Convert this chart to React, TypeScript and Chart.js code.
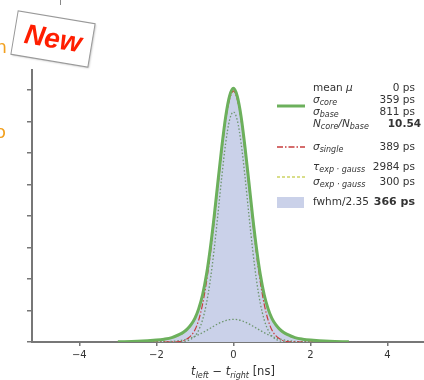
import React, { useEffect, useRef } from 'react';
import { Chart, registerables } from 'chart.js';
Chart.register(...registerables);

// x positions (ns)
const xs = [-3, -2.5, -2, -1.8, -1.6, -1.4, -1.3, -1.2, -1.1, -1.0, -0.9, -0.8, -0.7, -0.6, -0.5, -0.4, -0.3, -0.2, -0.1, 0,
  0.1, 0.2, 0.3, 0.4, 0.5, 0.6, 0.7, 0.8, 0.9, 1.0, 1.1, 1.2, 1.3, 1.4, 1.6, 1.8, 2, 2.5, 3];

// histogram (filled)
const histVals = [0, 0.01, 0.04, 0.07, 0.12, 0.21, 0.28, 0.38, 0.52, 0.72, 1.02, 1.46, 2.08, 2.92, 3.93, 5.05, 6.15, 7.1, 7.75, 8.0,
  7.75, 7.1, 6.15, 5.05, 3.93, 2.92, 2.08, 1.46, 1.02, 0.72, 0.52, 0.38, 0.28, 0.21, 0.12, 0.07, 0.04, 0.01, 0];

// double gaussian total fit (green solid)
const totalFit = [0.005, 0.02, 0.06, 0.09, 0.14, 0.24, 0.31, 0.41, 0.55, 0.75, 1.06, 1.5, 2.13, 2.97, 3.98, 5.1, 6.2, 7.15, 7.8, 8.05,
  7.8, 7.15, 6.2, 5.1, 3.98, 2.97, 2.13, 1.5, 1.06, 0.75, 0.55, 0.41, 0.31, 0.24, 0.14, 0.09, 0.06, 0.02, 0.005];

// core component (green dotted)
const coreFit = [0, 0, 0, 0, 0, 0.005, 0.015, 0.038, 0.088, 0.19, 0.38, 0.705, 1.22, 1.96, 2.93, 4.07, 5.26, 6.31, 7.04, 7.3,
  7.04, 6.31, 5.26, 4.07, 2.93, 1.96, 1.22, 0.705, 0.38, 0.19, 0.088, 0.038, 0.015, 0.005, 0, 0, 0, 0, 0];

// base component (green dotted)
const baseFit = [0, 0, 0.003, 0.008, 0.02, 0.047, 0.069, 0.097, 0.134, 0.18, 0.234, 0.296, 0.364, 0.437, 0.509, 0.577, 0.635, 0.681, 0.71, 0.72,
  0.71, 0.681, 0.635, 0.577, 0.509, 0.437, 0.364, 0.296, 0.234, 0.18, 0.134, 0.097, 0.069, 0.047, 0.02, 0.008, 0.003, 0, 0];

// single gaussian (red dash-dot)
const singleFit = [0, 0, 0, 0, 0.004, 0.015, 0.04, 0.1, 0.2, 0.38, 0.7, 1.2, 1.9, 2.78, 3.82, 4.95, 6.05, 7.05, 7.7, 7.97,
  7.7, 7.05, 6.05, 4.95, 3.82, 2.78, 1.9, 1.2, 0.7, 0.38, 0.2, 0.1, 0.04, 0.015, 0.004, 0, 0, 0, 0];

// exp-gauss (yellow dashed)
const expGaussFit = [0, 0.01, 0.04, 0.07, 0.12, 0.21, 0.28, 0.38, 0.52, 0.72, 1.02, 1.45, 2.07, 2.9, 3.9, 5.02, 6.12, 7.08, 7.72, 7.95,
  7.72, 7.08, 6.12, 5.02, 3.9, 2.9, 2.07, 1.45, 1.02, 0.72, 0.52, 0.38, 0.28, 0.21, 0.12, 0.07, 0.04, 0.01, 0];

const xTicks = [-4, -2, 0, 2, 4];
const yTicks = [0, 1, 2, 3, 4, 5, 6, 7, 8];

const legendValues = ['0 ps', '359 ps', '811 ps', '10.54', '389 ps', '2984 ps', '300 ps', '366 ps'];

const GREEN = 'rgb(108,176,92)';
const GREEN_DOT = 'rgb(110,150,110)';
const RED = 'rgb(200,60,60)';
const YELLOW = 'rgb(205,212,100)';
const FILL = 'rgb(202,209,233)';
const FONT = '"DejaVu Sans", sans-serif';

type Seg = { t: string; sub?: boolean; it?: boolean; bold?: boolean };

function drawSegs(ctx: CanvasRenderingContext2D, segs: Seg[], x: number, y: number, size: number, align: 'left' | 'right' | 'center' = 'left') {
  const fontFor = (s: Seg) => `${s.it ? 'italic ' : ''}${s.bold ? 'bold ' : ''}${s.sub ? Math.round(size * 0.72) : size}px ${FONT}`;
  let w = 0;
  for (const s of segs) { ctx.font = fontFor(s); w += ctx.measureText(s.t).width; }
  let cx = align === 'right' ? x - w : align === 'center' ? x - w / 2 : x;
  ctx.textAlign = 'left';
  ctx.textBaseline = 'middle';
  for (const s of segs) {
    ctx.font = fontFor(s);
    ctx.fillText(s.t, cx, y + (s.sub ? size * 0.3 : 0));
    cx += ctx.measureText(s.t).width;
  }
}

const overlay = {
  id: 'overlay',
  afterDraw(chart: any) {
    const ctx: CanvasRenderingContext2D = chart.ctx;
    ctx.save();
    ctx.fillStyle = '#333';
    const S = 10.5;
    const LX = 313;
    const RX = 415;
    // legend texts
    drawSegs(ctx, [{ t: 'mean ' }, { t: 'μ', it: true }], LX, 88, S);
    drawSegs(ctx, [{ t: 'σ', it: true }, { t: 'core', it: true, sub: true }], LX, 100, S);
    drawSegs(ctx, [{ t: 'σ', it: true }, { t: 'base', it: true, sub: true }], LX, 112, S);
    drawSegs(ctx, [{ t: 'N', it: true }, { t: 'core', it: true, sub: true }, { t: '/', it: true }, { t: 'N', it: true }, { t: 'base', it: true, sub: true }], LX, 124, S);
    drawSegs(ctx, [{ t: 'σ', it: true }, { t: 'single', it: true, sub: true }], LX, 147, S);
    drawSegs(ctx, [{ t: 'τ', it: true }, { t: 'exp · gauss', it: true, sub: true }], LX, 167, S);
    drawSegs(ctx, [{ t: 'σ', it: true }, { t: 'exp · gauss', it: true, sub: true }], LX, 182, S);
    drawSegs(ctx, [{ t: 'fwhm/2.35' }], LX, 202, S);
    const rowsY = [88, 100, 112, 124, 147, 167, 182, 202];
    legendValues.forEach((v, i) => {
      const bold = i === 3 || i === 7;
      drawSegs(ctx, [{ t: v, bold }], i === 3 ? RX + 6 : RX, rowsY[i], i === 7 ? 11 : S, 'right');
    });
    // legend samples
    ctx.lineCap = 'butt';
    ctx.strokeStyle = GREEN; ctx.lineWidth = 3; ctx.setLineDash([]);
    ctx.beginPath(); ctx.moveTo(277, 106); ctx.lineTo(305, 106); ctx.stroke();
    ctx.strokeStyle = RED; ctx.lineWidth = 1.3; ctx.setLineDash([6, 2, 1.5, 2]);
    ctx.beginPath(); ctx.moveTo(277, 147); ctx.lineTo(305, 147); ctx.stroke();
    ctx.strokeStyle = YELLOW; ctx.lineWidth = 1.3; ctx.setLineDash([3, 2]);
    ctx.beginPath(); ctx.moveTo(277, 177); ctx.lineTo(305, 177); ctx.stroke();
    ctx.setLineDash([]);
    ctx.fillStyle = FILL;
    ctx.fillRect(277, 197, 27, 11);

    // x axis title
    ctx.fillStyle = '#333';
    drawSegs(ctx, [{ t: 't', it: true }, { t: 'left', it: true, sub: true }, { t: ' − ' }, { t: 't', it: true }, { t: 'right', it: true, sub: true }, { t: ' [ns]' }], 233, 372, 11.5, 'center');

    // orange text fragments on the left edge
    ctx.fillStyle = 'rgb(242,160,30)';
    ctx.font = `18px ${FONT}`;
    ctx.textAlign = 'right';
    ctx.textBaseline = 'alphabetic';
    ctx.fillText('n', 7, 53);
    ctx.fillText('o', 6, 138);

    // small gray tick at top
    ctx.strokeStyle = '#888'; ctx.lineWidth = 1;
    ctx.beginPath(); ctx.moveTo(60.5, 0); ctx.lineTo(60.5, 5); ctx.stroke();

    // "New" badge
    ctx.save();
    ctx.translate(53, 39);
    ctx.rotate(9.5 * Math.PI / 180);
    ctx.shadowColor = 'rgba(0,0,0,0.25)';
    ctx.shadowBlur = 2;
    ctx.shadowOffsetX = 1;
    ctx.shadowOffsetY = 1;
    ctx.fillStyle = '#fff';
    ctx.fillRect(-39, -22, 78, 44);
    ctx.shadowColor = 'transparent';
    ctx.strokeStyle = '#999';
    ctx.lineWidth = 1;
    ctx.strokeRect(-39, -22, 78, 44);
    ctx.fillStyle = 'rgb(255,30,0)';
    ctx.font = `italic bold 28px "Liberation Sans", Arial, sans-serif`;
    ctx.textAlign = 'center';
    ctx.textBaseline = 'middle';
    ctx.fillText('New', 0, 1);
    ctx.restore();

    ctx.restore();
  },
};

function pts(vals: number[]) {
  return xs.map((x, i) => ({ x, y: vals[i] }));
}

export default function App() {
  const ref = useRef<HTMLCanvasElement>(null);
  useEffect(() => {
    if (!ref.current) return;
    const common = { pointRadius: 0, cubicInterpolationMode: 'monotone' as const, fill: false };
    const chart = new Chart(ref.current, {
      type: 'line',
      data: {
        datasets: [
          { ...common, data: pts(totalFit), borderColor: GREEN, borderWidth: 3, order: 0 },
          { ...common, data: pts(singleFit), borderColor: RED, borderWidth: 1.2, borderDash: [6, 2, 1.5, 2], order: 1 },
          { ...common, data: pts(expGaussFit), borderColor: YELLOW, borderWidth: 1.2, borderDash: [3, 2], order: 2 },
          { ...common, data: pts(coreFit), borderColor: GREEN_DOT, borderWidth: 1.3, borderDash: [1.5, 2], order: 3 },
          { ...common, data: pts(baseFit), borderColor: GREEN_DOT, borderWidth: 1.3, borderDash: [1.5, 2], order: 4 },
          { ...common, data: pts(histVals), borderWidth: 0, borderColor: 'rgba(0,0,0,0)', backgroundColor: FILL, fill: 'origin', order: 5 },
        ],
      },
      options: {
        animation: false,
        responsive: false,
        devicePixelRatio: 1,
        layout: { padding: { top: 70, left: 0, right: 0, bottom: 0 } },
        plugins: { legend: { display: false }, tooltip: { enabled: false }, title: { display: false } },
        scales: {
          x: {
            type: 'linear',
            min: -5.23,
            max: 4.95,
            afterBuildTicks: (s: any) => { s.ticks = xTicks.map((v) => ({ value: v })); },
            afterFit: (s: any) => { s.height = 38; },
            border: { display: true, color: '#777', width: 2 },
            grid: { display: true, drawOnChartArea: false, drawTicks: true, tickLength: 4, color: '#777', lineWidth: 1.5 },
            ticks: {
              padding: 3,
              color: '#333',
              font: { family: 'DejaVu Sans', size: 10 },
              callback: (v: any) => (v < 0 ? '−' + Math.abs(v) : String(v)),
            },
          },
          y: {
            type: 'linear',
            min: 0,
            max: 8.63,
            afterBuildTicks: (s: any) => { s.ticks = yTicks.map((v) => ({ value: v })); },
            afterFit: (s: any) => { s.width = 32; },
            border: { display: true, color: '#777', width: 2 },
            grid: { display: true, drawOnChartArea: false, drawTicks: true, tickLength: 5, color: '#777', lineWidth: 1.5 },
            ticks: { display: false },
          },
        },
      },
      plugins: [overlay],
    });
    return () => chart.destroy();
  }, []);
  return (
    <div style={{ position: 'absolute', left: 0, top: 0, width: 424, height: 380, background: '#fff' }}>
      <canvas ref={ref} width={424} height={380} style={{ width: 424, height: 380, display: 'block' }} />
    </div>
  );
}
